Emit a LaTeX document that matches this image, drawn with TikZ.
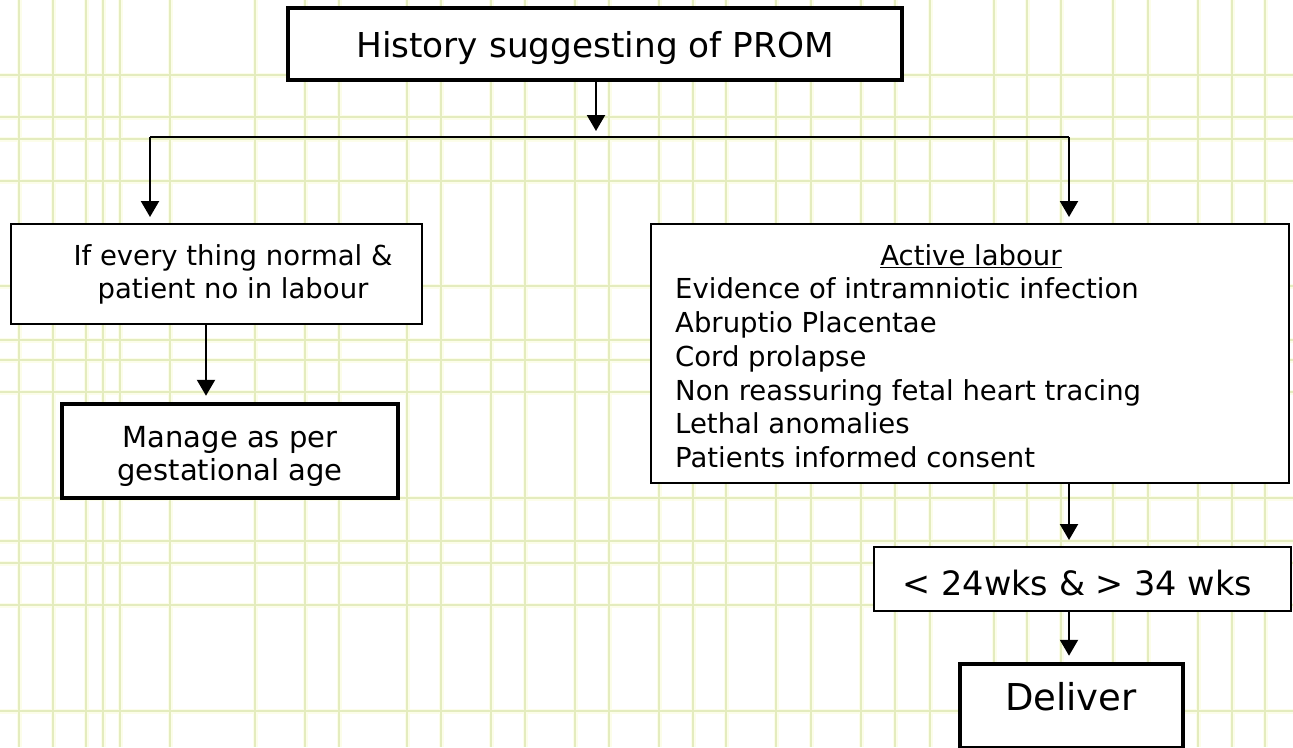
\documentclass[tikz,border=0pt]{standalone}
\usepackage{fontspec}
\setmainfont{DejaVu Sans}
\usetikzlibrary{arrows.meta}
\definecolor{gridc}{RGB}{228,236,190}
\definecolor{gridglow}{RGB}{252,253,234}
\newcommand\fsbody{\fontsize{27.5}{33.5}\selectfont}
\newcommand\fsmanage{\fontsize{29}{34}\selectfont}
\newcommand\fshead{\fontsize{34.3}{40}\selectfont}
\newcommand\fsweeks{\fontsize{33.5}{40}\selectfont}
\newcommand\fsdeliver{\fontsize{37}{44}\selectfont}
\begin{document}
\begin{tikzpicture}[x=1pt,y=-1pt,
  box/.style={draw=black, fill=white, line width=2pt, inner sep=0pt},
  thickbox/.style={box, line width=4.5pt},
  label/.style={inner sep=0pt, text=black},
  link/.style={line width=2.2pt},
  arr/.style={link, -{Triangle[length=16pt,width=18pt]}, shorten >=6pt},
  gridhalo/.style={line width=5pt, color=gridglow},
  gridline/.style={line width=1.1pt, color=gridc}]

% page and squared background
\useasboundingbox (0,0) rectangle (1293,747);
\fill[white] (0,0) rectangle (1293,747);
\foreach \x in {19,53,86,103,120,170,255,305,339,407,441,491,525,575,609,659,693,726,776,811,861,895,930,994,1027,1061,1113,1148,1198,1232,1265}
  {\draw[gridhalo] (\x,0) -- (\x,747);}
\foreach \y in {75,117,139,181,286,340,360,392,498,541,563,605,711}
  {\draw[gridhalo] (0,\y) -- (1293,\y);}
\foreach \x in {19,53,86,103,120,170,255,305,339,407,441,491,525,575,609,659,693,726,776,811,861,895,930,994,1027,1061,1113,1148,1198,1232,1265}
  {\draw[gridline] (\x,0) -- (\x,747);}
\foreach \y in {75,117,139,181,286,340,360,392,498,541,563,605,711}
  {\draw[gridline] (0,\y) -- (1293,\y);}

% boxes
\node[thickbox, minimum width=614pt, minimum height=72pt] (hist) at (595,44) {};
\node[box, minimum width=411pt, minimum height=100pt] (normal) at (216.5,274) {};
\node[thickbox, minimum width=336pt, minimum height=94pt] (manage) at (230,451) {};
\node[box, minimum width=638pt, minimum height=259pt] (active) at (970,353.5) {};
\node[box, minimum width=417pt, minimum height=64pt] (weeks) at (1082.5,579) {};
\node[thickbox, minimum width=223pt, minimum height=84pt] (deliver) at (1071.5,706) {};

% texts
\node[label, anchor=base, font=\fshead] (histtxt) at (595,57) {History suggesting of PROM};
\node[label, anchor=base, font=\fsbody] (normal1) at (233,265) {If every thing normal \&};
\node[label, anchor=base, font=\fsbody] (normal2) at (233,298) {patient no in labour};
\node[label, anchor=base, font=\fsmanage] (manage1) at (230,447) {Manage as per};
\node[label, anchor=base, font=\fsmanage] (manage2) at (230,480) {gestational age};
\node[label, anchor=base, font=\fsbody] (acttitle) at (971,265) {\underline{Active labour}};
\node[label, anchor=base west, font=\fsbody] (act1) at (675,298) {Evidence of intramniotic infection};
\node[label, anchor=base west, font=\fsbody] (act2) at (675,332) {Abruptio Placentae};
\node[label, anchor=base west, font=\fsbody] (act3) at (675,366) {Cord prolapse};
\node[label, anchor=base west, font=\fsbody] (act4) at (675,400) {Non reassuring fetal heart tracing};
\node[label, anchor=base west, font=\fsbody] (act5) at (675,433) {Lethal anomalies};
\node[label, anchor=base west, font=\fsbody] (act6) at (675,467) {Patients informed consent};
\node[label, anchor=base, font=\fsweeks] (weekstxt) at (1077.5,595) {< 24wks \& > 34 wks};
\node[label, anchor=base, font=\fsdeliver] (delivertxt) at (1071,710) {Deliver};

% connectors
\coordinate (split) at (596,137);
\coordinate (lj) at (150,137);
\coordinate (rj) at (1069,137);
\draw[arr] (split |- hist.south) -- (split);
\draw[link] (lj) -- (rj);
\draw[arr] (lj) -- (lj |- normal.north);
\draw[arr] (rj) -- (rj |- active.north);
\draw[arr] (206,324) coordinate (nl) -- (nl |- manage.north);
\draw[arr] (1069,483) coordinate (al) -- (al |- weeks.north);
\draw[arr] (al |- weeks.south) -- (al |- deliver.north);
\end{tikzpicture}
\end{document}
